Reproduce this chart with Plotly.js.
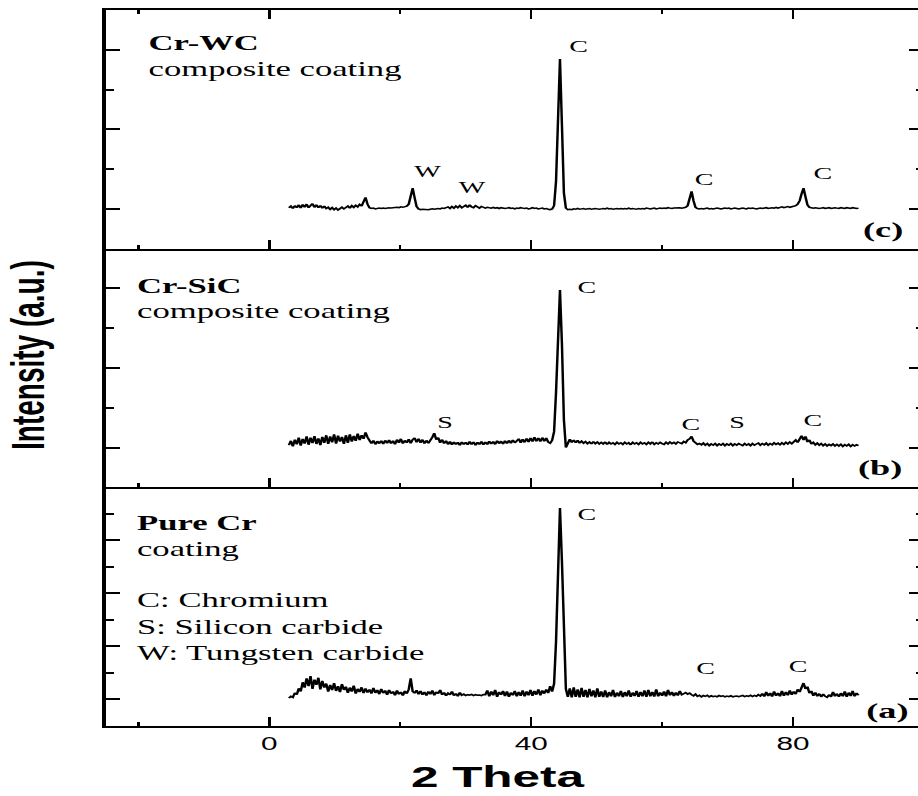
<!DOCTYPE html>
<html>
<head>
<meta charset="utf-8">
<script src="https://cdn.plot.ly/plotly-3.0.1.min.js"></script>
<style>
  html, body { margin: 0; padding: 0; background: #fff; overflow: hidden; }
  #plot { width: 564px; height: 796px; transform: scaleX(1.65); transform-origin: 0 0; }
</style>
</head>
<body>
<div id="plot"></div>
<script>
// 2-theta sampling of every pattern (degrees)
const START_2THETA = 3.0;
const STEP_2THETA = 0.3;

// (c) Cr-WC composite coating, intensity (a.u.), 3.0 ... 90.0
const intensityCrWC = [
  1.03, 1.07, 1.01, 1.08, 1.03, 1.10, 1.02, 1.11, 1.04, 1.12,
  1.03, 1.09, 1.13, 1.04, 1.10, 1.03, 1.08, 1.02, 1.07, 1.01,
  1.04, 0.99, 1.03, 0.98, 1.02, 0.97, 1.01, 1.04, 1.00, 1.05,
  1.07, 1.02, 1.08, 1.04, 1.09, 1.05, 1.11, 1.07, 1.18, 1.29,
  1.12, 1.03, 1.01, 1.02, 1.00, 1.01, 1.02, 1.01, 1.02, 1.01,
  1.02, 1.03, 1.02, 1.03, 1.02, 1.04, 1.03, 1.05, 1.04, 1.06,
  1.07, 1.12, 1.30, 1.52, 1.28, 1.06, 1.00, 0.98, 0.99, 0.98,
  0.99, 0.98, 0.99, 1.00, 0.99, 1.00, 1.01, 1.00, 1.02, 1.01,
  1.02, 1.05, 1.01, 1.06, 1.02, 1.07, 1.03, 1.08, 1.03, 1.07,
  1.09, 1.04, 1.10, 1.05, 1.03, 1.08, 1.04, 1.02, 1.06, 1.03,
  1.02, 1.04, 1.03, 1.02, 1.04, 1.02, 1.03, 1.01, 1.03, 1.02,
  1.01, 1.02, 1.03, 1.01, 1.02, 1.00, 1.02, 1.01, 1.03, 1.02,
  1.01, 1.02, 1.00, 1.01, 1.03, 1.01, 1.02, 1.00, 1.01, 1.02,
  1.00, 1.01, 0.99, 0.98, 1.00, 1.08, 1.70, 3.70, 4.77, 3.10,
  1.40, 1.02, 0.98, 0.99, 0.98, 1.00, 0.99, 1.01, 0.99, 1.00,
  1.01, 0.99, 1.00, 1.01, 0.99, 1.00, 1.01, 1.00, 0.99, 1.00,
  1.01, 1.00, 1.02, 1.00, 1.01, 0.99, 1.00, 1.01, 1.00, 1.01,
  1.00, 1.01, 1.00, 1.02, 1.00, 1.01, 1.00, 0.99, 1.01, 1.00,
  1.01, 1.00, 1.02, 1.01, 1.00, 1.01, 1.02, 1.00, 1.01, 1.02,
  1.01, 1.02, 1.01, 1.03, 1.02, 1.01, 1.02, 1.03, 1.02, 1.03,
  1.02, 1.03, 1.04, 1.08, 1.22, 1.44, 1.20, 1.04, 1.01, 1.00,
  1.01, 1.00, 1.01, 1.02, 1.00, 1.01, 1.00, 1.01, 1.02, 1.01,
  1.00, 1.01, 1.02, 1.01, 1.02, 1.00, 1.01, 1.02, 1.01, 1.00,
  1.01, 1.02, 1.01, 1.00, 1.02, 1.01, 1.02, 1.01, 1.00, 1.01,
  1.02, 1.01, 1.02, 1.03, 1.01, 1.02, 1.03, 1.02, 1.04, 1.02,
  1.03, 1.05, 1.03, 1.04, 1.06, 1.04, 1.05, 1.07, 1.08, 1.12,
  1.20, 1.38, 1.52, 1.30, 1.10, 1.04, 1.03, 1.02, 1.03, 1.02,
  1.01, 1.02, 1.03, 1.01, 1.02, 1.03, 1.01, 1.02, 1.03, 1.02,
  1.01, 1.03, 1.02, 1.01, 1.03, 1.02, 1.01, 1.03, 1.02, 1.01,
  1.02
];

// (b) Cr-SiC composite coating
const intensityCrSiC = [
  1.06, 1.17, 1.03, 1.20, 1.08, 1.25, 1.05, 1.22, 1.10, 1.28,
  1.07, 1.25, 1.11, 1.29, 1.09, 1.23, 1.06, 1.27, 1.12, 1.31,
  1.09, 1.28, 1.13, 1.33, 1.10, 1.30, 1.15, 1.27, 1.09, 1.31,
  1.12, 1.33, 1.15, 1.29, 1.17, 1.35, 1.19, 1.31, 1.22, 1.38,
  1.26, 1.16, 1.10, 1.18, 1.08, 1.16, 1.10, 1.17, 1.09, 1.18,
  1.11, 1.19, 1.10, 1.17, 1.08, 1.20, 1.12, 1.22, 1.10, 1.18,
  1.12, 1.21, 1.11, 1.20, 1.24, 1.13, 1.22, 1.12, 1.20, 1.10,
  1.18, 1.11, 1.22, 1.26, 1.36, 1.20, 1.25, 1.12, 1.20, 1.10,
  1.17, 1.08, 1.15, 1.07, 1.14, 1.08, 1.13, 1.06, 1.14, 1.08,
  1.13, 1.07, 1.15, 1.08, 1.14, 1.06, 1.13, 1.08, 1.15, 1.07,
  1.14, 1.08, 1.16, 1.09, 1.15, 1.08, 1.17, 1.10, 1.16, 1.09,
  1.17, 1.10, 1.18, 1.11, 1.19, 1.12, 1.17, 1.22, 1.12, 1.21,
  1.13, 1.23, 1.14, 1.24, 1.15, 1.26, 1.16, 1.24, 1.15, 1.25,
  1.16, 1.24, 1.14, 1.11, 1.18, 1.40, 2.40, 4.10, 4.96, 3.60,
  1.70, 1.00, 1.12, 1.21, 1.13, 1.19, 1.12, 1.18, 1.11, 1.16,
  1.11, 1.15, 1.10, 1.14, 1.09, 1.15, 1.10, 1.14, 1.09, 1.13,
  1.09, 1.14, 1.08, 1.13, 1.09, 1.12, 1.08, 1.13, 1.09, 1.12,
  1.08, 1.13, 1.09, 1.12, 1.07, 1.13, 1.09, 1.12, 1.08, 1.13,
  1.09, 1.12, 1.08, 1.13, 1.09, 1.14, 1.08, 1.12, 1.09, 1.13,
  1.10, 1.08, 1.13, 1.09, 1.14, 1.10, 1.13, 1.09, 1.14, 1.11,
  1.10, 1.15, 1.12, 1.19, 1.22, 1.28, 1.16, 1.12, 1.08, 1.10,
  1.07, 1.11, 1.06, 1.10, 1.05, 1.09, 1.06, 1.10, 1.05, 1.09,
  1.06, 1.10, 1.05, 1.09, 1.06, 1.10, 1.05, 1.09, 1.06, 1.10,
  1.07, 1.05, 1.10, 1.06, 1.09, 1.05, 1.10, 1.06, 1.09, 1.11,
  1.06, 1.10, 1.07, 1.11, 1.06, 1.10, 1.07, 1.12, 1.08, 1.11,
  1.07, 1.12, 1.08, 1.13, 1.09, 1.14, 1.10, 1.16, 1.19, 1.13,
  1.24, 1.30, 1.19, 1.28, 1.14, 1.19, 1.09, 1.13, 1.07, 1.11,
  1.06, 1.10, 1.05, 1.09, 1.04, 1.08, 1.05, 1.09, 1.04, 1.08,
  1.04, 1.08, 1.03, 1.07, 1.04, 1.08, 1.03, 1.07, 1.04, 1.07,
  1.05
];

// (a) Pure Cr coating
const intensityPureCr = [
  1.05, 1.12, 1.08, 1.25, 1.18, 1.42, 1.30, 1.65, 1.45, 1.80,
  1.50, 1.88, 1.40, 1.75, 1.55, 1.82, 1.38, 1.70, 1.45, 1.60,
  1.30, 1.55, 1.35, 1.62, 1.32, 1.50, 1.28, 1.58, 1.36, 1.48,
  1.25, 1.45, 1.30, 1.52, 1.22, 1.40, 1.28, 1.46, 1.24, 1.42,
  1.26, 1.38, 1.22, 1.44, 1.25, 1.36, 1.20, 1.40, 1.24, 1.34,
  1.18, 1.36, 1.22, 1.30, 1.16, 1.34, 1.20, 1.28, 1.15, 1.32,
  1.22, 1.38, 1.80, 1.30, 1.24, 1.35, 1.20, 1.32, 1.18, 1.28,
  1.15, 1.30, 1.20, 1.34, 1.16, 1.28, 1.22, 1.36, 1.18, 1.26,
  1.14, 1.24, 1.18, 1.30, 1.15, 1.22, 1.12, 1.26, 1.16, 1.20,
  1.15, 1.18, 1.16, 1.19, 1.15, 1.18, 1.16, 1.17, 1.15, 1.19,
  1.18, 1.34, 1.12, 1.30, 1.16, 1.36, 1.10, 1.28, 1.18, 1.32,
  1.13, 1.30, 1.10, 1.26, 1.16, 1.32, 1.12, 1.28, 1.14, 1.34,
  1.12, 1.30, 1.16, 1.36, 1.14, 1.32, 1.18, 1.38, 1.16, 1.34,
  1.22, 1.38, 1.24, 1.50, 1.30, 1.60, 3.20, 6.80, 8.22, 6.20,
  4.20, 1.40, 1.10, 1.42, 1.08, 1.46, 1.10, 1.38, 1.08, 1.44,
  1.10, 1.36, 1.08, 1.40, 1.12, 1.34, 1.08, 1.42, 1.10, 1.30,
  1.09, 1.34, 1.08, 1.28, 1.12, 1.36, 1.09, 1.26, 1.12, 1.32,
  1.09, 1.28, 1.12, 1.34, 1.10, 1.26, 1.13, 1.32, 1.10, 1.28,
  1.12, 1.34, 1.10, 1.36, 1.12, 1.28, 1.11, 1.38, 1.12, 1.26,
  1.14, 1.30, 1.12, 1.36, 1.16, 1.28, 1.13, 1.26, 1.15, 1.32,
  1.18, 1.22, 1.26, 1.20, 1.24, 1.18, 1.14, 1.20, 1.12, 1.16,
  1.10, 1.15, 1.12, 1.16, 1.10, 1.14, 1.11, 1.13, 1.10, 1.15,
  1.12, 1.14, 1.10, 1.13, 1.11, 1.14, 1.10, 1.12, 1.13, 1.11,
  1.12, 1.15, 1.11, 1.14, 1.12, 1.16, 1.11, 1.15, 1.12, 1.18,
  1.13, 1.22, 1.11, 1.28, 1.13, 1.24, 1.11, 1.30, 1.14, 1.24,
  1.12, 1.32, 1.14, 1.28, 1.16, 1.34, 1.18, 1.30, 1.20, 1.38,
  1.28, 1.45, 1.62, 1.40, 1.48, 1.24, 1.32, 1.14, 1.26, 1.12,
  1.22, 1.10, 1.20, 1.12, 1.08, 1.18, 1.10, 1.28, 1.12, 1.22,
  1.10, 1.24, 1.12, 1.30, 1.10, 1.26, 1.13, 1.32, 1.12, 1.24,
  1.16
];

const xTickLabels = ['0', '40', '80'];
const xTickValues = [0, 40, 80];

const lineStyle = { color: '#000', width: 1.5 };
const traces = [
  { type: 'scatter', mode: 'lines', x0: START_2THETA, dx: STEP_2THETA, y: intensityCrWC, xaxis: 'x', yaxis: 'y', line: lineStyle, hoverinfo: 'skip' },
  { type: 'scatter', mode: 'lines', x0: START_2THETA, dx: STEP_2THETA, y: intensityCrSiC, xaxis: 'x2', yaxis: 'y2', line: lineStyle, hoverinfo: 'skip' },
  { type: 'scatter', mode: 'lines', x0: START_2THETA, dx: STEP_2THETA, y: intensityPureCr, xaxis: 'x3', yaxis: 'y3', line: lineStyle, hoverinfo: 'skip' }
];

function xAxis(anchor, labels, mirror) {
  return {
    anchor: anchor, range: [-25, 100], showgrid: false, zeroline: false,
    showline: true, linecolor: '#000', linewidth: 2, mirror: mirror,
    ticks: 'inside', ticklen: 9, tickwidth: 1.5, tickcolor: '#000',
    tickmode: 'array', tickvals: xTickValues, ticktext: xTickLabels,
    showticklabels: labels,
    tickfont: { family: 'Liberation Sans, Arial, sans-serif', size: 18, color: '#000' },
    minor: { dtick: 20, tick0: 0, ticks: 'inside', ticklen: 4, tickwidth: 1.5, tickcolor: '#000', showgrid: false }
  };
}
function yAxis(anchor, domain, top) {
  return {
    anchor: anchor, domain: domain, range: [0, top], showgrid: false, zeroline: false,
    showline: true, linecolor: '#000', linewidth: 2, mirror: 'ticks',
    ticks: 'inside', ticklen: 9, tickwidth: 2, tickcolor: '#000',
    tick0: 1, dtick: 2, showticklabels: false,
    minor: { dtick: 1, tick0: 0, ticks: 'inside', ticklen: 5, tickwidth: 2, tickcolor: '#000', showgrid: false }
  };
}

const serif = 'Liberation Serif, Times New Roman, serif';
function note(text, x, y, ax, size, anchor) {
  return { text: text, x: x, y: y, xref: 'x' + ax, yref: 'y' + ax, showarrow: false,
           xanchor: anchor || 'center', yanchor: 'middle',
           font: { family: serif, size: size, color: '#000' } };
}

const annotations = [
  // (c)
  note('<b>Cr-WC</b>', -18.9, 5.17, '', 21, 'left'),
  note('composite coating', -18.9, 4.52, '', 21, 'left'),
  note('C', 47.2, 5.07, '', 17),
  note('W', 24.3, 1.93, '', 17),
  note('W', 31.0, 1.55, '', 17),
  note('C', 66.4, 1.73, '', 17),
  note('C', 84.6, 1.88, '', 17),
  note('<b>(c)</b>', 93.6, 0.47, '', 22),
  // (b)
  note('<b>Cr-SiC</b>', -20.8, 5.06, '2', 21, 'left'),
  note('composite coating', -20.8, 4.43, '2', 21, 'left'),
  note('C', 48.5, 5.03, '2', 17),
  note('S', 26.9, 1.64, '2', 17),
  note('C', 64.3, 1.59, '2', 17),
  note('S', 71.5, 1.64, '2', 17),
  note('C', 82.9, 1.69, '2', 17),
  note('<b>(b)</b>', 93.3, 0.51, '2', 22),
  // (a)
  note('<b>Pure Cr</b>', -20.8, 7.65, '3', 21, 'left'),
  note('coating', -20.8, 6.67, '3', 21, 'left'),
  note('C: Chromium', -20.8, 4.75, '3', 21, 'left'),
  note('S: Silicon carbide', -20.8, 3.73, '3', 21, 'left'),
  note('W: Tungsten carbide', -20.8, 2.75, '3', 21, 'left'),
  note('C', 48.5, 7.99, '3', 17),
  note('C', 66.6, 2.15, '3', 17),
  note('C', 80.6, 2.26, '3', 17),
  note('<b>(a)</b>', 94.4, 0.60, '3', 22),
  // axis titles
  { text: '<b>2 Theta</b>', x: 34.8, y: -0.071, xref: 'x3', yref: 'paper', showarrow: false,
    xanchor: 'center', yanchor: 'middle', font: { family: 'Liberation Sans, Arial, sans-serif', size: 30, color: '#000' } },
  { text: '<b>Intensity (a.u.)</b>', x: -0.095, y: 0.518, xref: 'paper', yref: 'paper', showarrow: false,
    textangle: -90, xanchor: 'center', yanchor: 'middle', font: { family: 'Liberation Sans, Arial, sans-serif', size: 28, color: '#000' } }
];

const layout = {
  width: 564, height: 796,
  margin: { l: 64, r: 4, t: 10, b: 70 },
  paper_bgcolor: '#fff', plot_bgcolor: '#fff',
  showlegend: false,
  xaxis: xAxis('y', false, 'ticks'),
  xaxis2: xAxis('y2', false, false),
  xaxis3: xAxis('y3', true, false),
  yaxis: yAxis('x', [2/3, 1], 6),
  yaxis2: yAxis('x2', [1/3, 2/3], 6),
  yaxis3: yAxis('x3', [0, 1/3], 9),
  annotations: annotations
};

Plotly.newPlot('plot', traces, layout, { displayModeBar: false, staticPlot: true });
</script>
</body>
</html>
